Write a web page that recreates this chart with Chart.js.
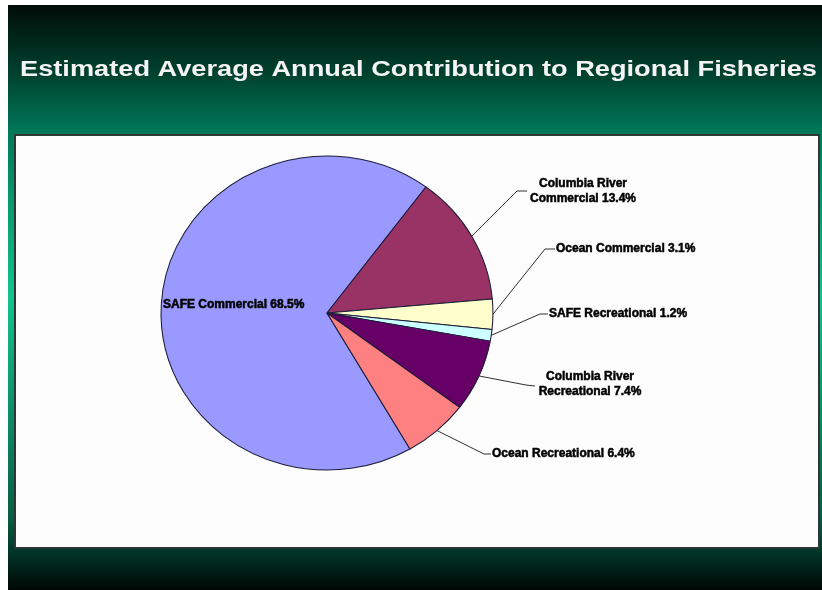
<!DOCTYPE html>
<html>
<head>
<meta charset="utf-8">
<title>Regional Fisheries</title>
<script src="https://cdn.jsdelivr.net/npm/chart.js@4.4.1/dist/chart.umd.min.js"></script>
<style>
  html, body { margin: 0; padding: 0; background: #fff; }
  #wrap { width: 822px; height: 590px; }
</style>
</head>
<body>
<div id="wrap"><canvas id="myChart" width="822" height="590"></canvas></div>
<script>
// Chart data
const chartTitle = 'Estimated Average Annual Contribution to Regional Fisheries';
const categories = [
    'SAFE Commercial',
    ['Columbia River', 'Commercial'],
    'Ocean Commercial',
    'SAFE Recreational',
    ['Columbia River', 'Recreational'],
    'Ocean Recreational',
];
const shares = [68.5, 13.4, 3.1, 1.2, 7.4, 6.4];   // percent
const sliceColors = ['#9999ff', '#993366', '#ffffcc', '#ccffff', '#660066', '#ff8080'];

// Label placement: leader elbow, leader end, text anchor (first line)
const labelSpots = [
    { text: [163, 305], align: 'left' },
    { elbow: [517, 191], end: [527, 191], text: [583, 184], align: 'center' },
    { elbow: [545, 249], end: [555, 249], text: [556, 249], align: 'left' },
    { elbow: [540, 314], end: [548, 314], text: [549, 314], align: 'left' },
    { elbow: [526, 385], end: [535, 386], text: [590, 377], align: 'center' },
    { elbow: [484, 454], end: [491, 454], text: [492, 454], align: 'left' },
];

const FONT = '"Liberation Sans", Arial, sans-serif';
const stretchX = 1.057;   // pie is drawn slightly wider than tall
const lineGap = 15;

// Slide backdrop, white panel and title
const backdrop = {
    id: 'backdrop',
    beforeDraw(chart) {
        const ctx = chart.ctx;
        ctx.save();
        ctx.fillStyle = '#ffffff';
        ctx.fillRect(0, 0, chart.width, chart.height);

        const g = ctx.createLinearGradient(0, 5, 0, 590);
        g.addColorStop(0.00, '#000c07');
        g.addColorStop(0.12, '#00432f');
        g.addColorStop(0.22, '#007a5a');
        g.addColorStop(0.50, '#12c48c');
        g.addColorStop(0.88, '#075c42');
        g.addColorStop(0.93, '#013a2a');
        g.addColorStop(1.00, '#000604');
        ctx.fillStyle = g;
        ctx.fillRect(8, 5, 814, 585);

        ctx.fillStyle = '#fdfdfd';
        ctx.fillRect(15, 135, 804, 413);
        ctx.strokeStyle = '#2b3833';
        ctx.lineWidth = 2;
        ctx.strokeRect(15, 135, 804, 413);

        // title, fitted to its width
        ctx.font = 'bold 22px ' + FONT;
        ctx.fillStyle = '#f4f4f4';
        ctx.textBaseline = 'alphabetic';
        const w = ctx.measureText(chartTitle).width;
        ctx.translate(20, 76);
        ctx.scale(797 / w, 1);
        ctx.fillText(chartTitle, 0, 0);
        ctx.restore();
    },
    beforeDatasetsDraw(chart) {
        const ctx = chart.ctx;
        const cx = chart.getDatasetMeta(0).data[0].x;
        ctx.save();
        ctx.translate(cx, 0);
        ctx.scale(stretchX, 1);
        ctx.translate(-cx, 0);
    },
    afterDatasetsDraw(chart) {
        const ctx = chart.ctx;
        ctx.restore();

        const arcs = chart.getDatasetMeta(0).data;
        ctx.save();
        ctx.font = 'bold 12px ' + FONT;
        ctx.fillStyle = '#000000';
        ctx.textBaseline = 'middle';
        ctx.lineWidth = 1;

        arcs.forEach((arc, i) => {
            const spot = labelSpots[i];
            const p = arc.getProps(['x', 'y', 'startAngle', 'endAngle', 'outerRadius'], true);
            if (spot.elbow) {
                const mid = (p.startAngle + p.endAngle) / 2;
                const sx = p.x + Math.cos(mid) * p.outerRadius * stretchX;
                const sy = p.y + Math.sin(mid) * p.outerRadius;
                ctx.strokeStyle = '#303030';
                ctx.lineWidth = 1;
                ctx.beginPath();
                ctx.moveTo(sx, sy);
                ctx.lineTo(spot.elbow[0], spot.elbow[1]);
                ctx.lineTo(spot.end[0], spot.end[1]);
                ctx.stroke();
            }
            const text = [].concat(categories[i]);
            text[text.length - 1] += ' ' + shares[i].toFixed(1) + '%';
            ctx.textAlign = spot.align;
            ctx.strokeStyle = '#000000';
            ctx.lineWidth = 0.5;
            text.forEach((t, k) => {
                const y = spot.text[1] + k * lineGap;
                ctx.fillText(t, spot.text[0], y);
                ctx.strokeText(t, spot.text[0], y);
            });
        });
        ctx.restore();
    }
};

const ctx = document.getElementById('myChart').getContext('2d');
const myChart = new Chart(ctx, {
    type: 'pie',
    data: {
        labels: categories,
        datasets: [{
            data: shares,
            backgroundColor: sliceColors,
            borderColor: '#1c1c38',
            borderWidth: 1,
            clip: false,
        }]
    },
    options: {
        responsive: false,
        devicePixelRatio: 1,
        animation: false,
        events: [],
        rotation: 150,
        radius: 157,
        layout: {
            padding: { left: 170, right: 338, top: 156, bottom: 120 },
        },
        plugins: {
            legend: { display: false },
            tooltip: { enabled: false },
            title: { display: false },
        },
    },
    plugins: [backdrop],
});
</script>
</body>
</html>
